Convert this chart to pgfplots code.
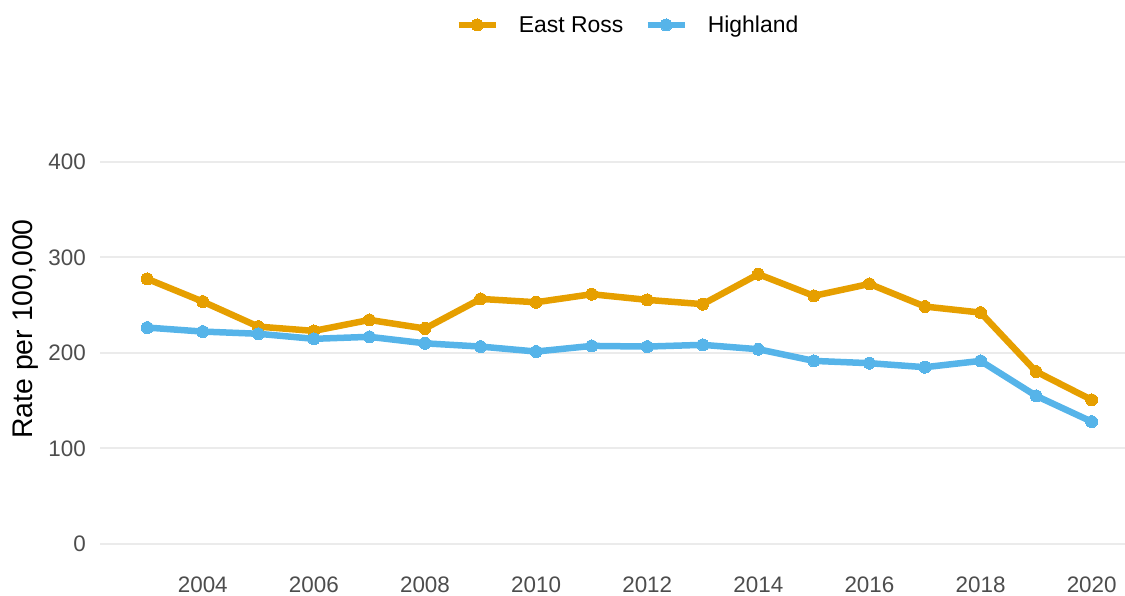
\documentclass[border=0pt]{standalone}
\usepackage{pgfplots}
\pgfplotsset{compat=1.18}
\usepackage{fontspec}
\setmainfont{Liberation Sans}
\definecolor{eastross}{HTML}{E69F00}
\definecolor{highland}{HTML}{56B4E9}
\definecolor{gridc}{HTML}{EBEBEB}
\definecolor{tickc}{HTML}{4D4D4D}
\begin{document}
\begin{tikzpicture}
\useasboundingbox (-100bp,-33bp) rectangle (1025bp,563bp);
\begin{axis}[
  at={(0,0)}, anchor=south west,
  scale only axis,
  width=1025bp, height=468bp,
  xmin=2002.15, xmax=2020.6,
  ymin=-20, ymax=470,
  axis line style={draw=none},
  tick style={draw=none},
  xtick={2004,2006,...,2020},
  ytick={0,100,200,300,400},
  ymajorgrids,
  major grid style={color=gridc, line width=1.8bp},
  /pgf/number format/assume math mode=true,
  xticklabel style={/pgf/number format/1000 sep={}, font=\fontsize{22.5}{26}\selectfont, color=tickc, inner sep=0pt, yshift=-13.5bp},
  yticklabel style={font=\fontsize{22.5}{26}\selectfont, color=tickc, inner sep=0pt, xshift=-14bp},
  ylabel={Rate per 100,000},
  ylabel style={at={(axis description cs:-0.0722,0.5)}, anchor=center, font=\fontsize{28.5}{32}\selectfont, inner sep=0pt},
  legend columns=2,
  legend style={at={(axis description cs:0.514,1.1496)}, anchor=center, draw=none, fill=none,
    font=\fontsize{23}{27}\selectfont,
    nodes={inner sep=0pt},
    /tikz/every odd column/.append style={column sep=20bp},
    /tikz/column 2/.style={column sep=21bp}},
  legend image code/.code={\draw[#1,mark repeat=2,mark phase=2] plot coordinates {(0bp,0bp) (18.5bp,0bp) (37bp,0bp)};},
]
\addplot[color=eastross, line width=6.5bp, mark=*, mark size=6bp, mark options={line width=0pt}] coordinates {
(2003,277.5) (2004,253.7) (2005,227.5) (2006,223) (2007,234.5) (2008,225.5)
(2009,256.5) (2010,253) (2011,261.4) (2012,255.5) (2013,251) (2014,282.4)
(2015,259.7) (2016,272.2) (2017,248.5) (2018,242.2) (2019,180.4) (2020,150.8)
};
\addlegendentry{East Ross}
\addplot[color=highland, line width=6.5bp, mark=*, mark size=6bp, mark options={line width=0pt}] coordinates {
(2003,226.5) (2004,222.3) (2005,220) (2006,214.7) (2007,216.8) (2008,210)
(2009,206.6) (2010,201.4) (2011,207.3) (2012,206.6) (2013,208.4) (2014,203.8)
(2015,191.6) (2016,189.2) (2017,185) (2018,191.6) (2019,155) (2020,128)
};
\addlegendentry{Highland}
\end{axis}
\end{tikzpicture}
\end{document}
